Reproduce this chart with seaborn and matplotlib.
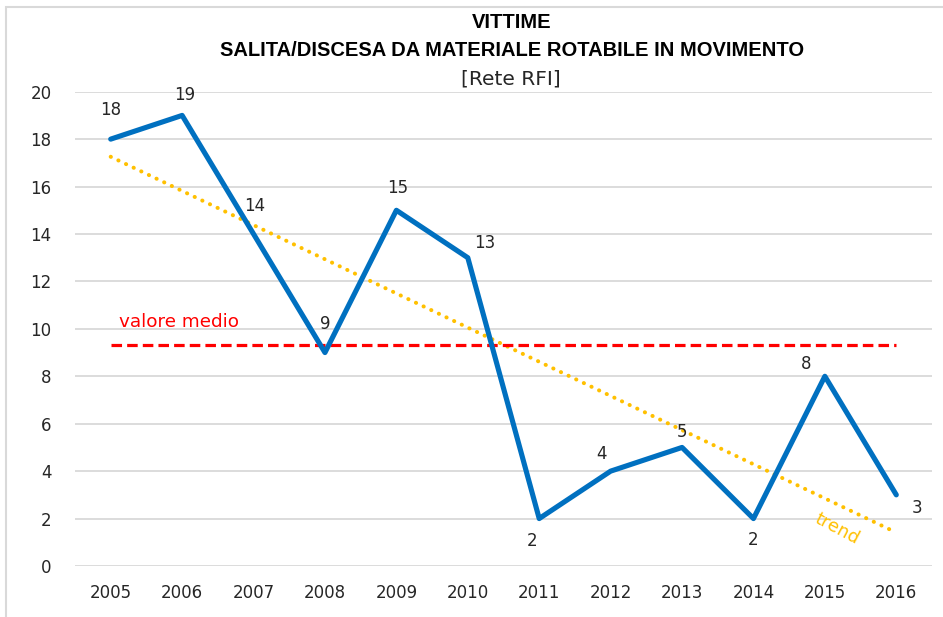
import numpy as np
import pandas as pd
import matplotlib
matplotlib.use("Agg")
import matplotlib.pyplot as plt
from matplotlib.patches import Rectangle
import seaborn as sns

years = [2005, 2006, 2007, 2008, 2009, 2010, 2011, 2012, 2013, 2014, 2015, 2016]
victims = [18, 19, 14, 9, 15, 13, 2, 4, 5, 2, 8, 3]
y_ticks = [0, 2, 4, 6, 8, 10, 12, 14, 16, 18, 20]
title_lines = ["VITTIME", "SALITA/DISCESA DA MATERIALE ROTABILE IN MOVIMENTO"]
subtitle = "[Rete RFI]"
mean_label = "valore medio"
trend_label = "trend"

# label offsets in pixels (dx, dy) relative to each point
label_offsets = [(0, 29), (3, 20), (1, 28), (0, 29), (1, 22), (17, 15),
                 (-7, -22), (-9, 17), (0, 15), (0, -21), (-19, 12), (21, -13)]

df = pd.DataFrame({"year": years, "victims": victims})
mean_val = float(np.mean(victims))
df_mean = pd.DataFrame({"year": years, "mean": [mean_val] * len(years)})

sns.set_theme(style="white")
plt.rcParams["font.family"] = ["DejaVu Sans"]

fig = plt.figure(figsize=(9.43, 6.17), dpi=100)
ax = fig.add_axes([75 / 943, 1 - 566 / 617, (932 - 75) / 943, (566 - 91.7) / 617])

ax.set_ylim(0, 20)
ax.set_xlim(2004.5, 2016.5)
ax.set_yticks(y_ticks)
ax.yaxis.grid(True, color="#D9D9D9", lw=1.3)
ax.xaxis.grid(False)
ax.set_axisbelow(True)
for s in ax.spines.values():
    s.set_visible(False)

# trend (linear regression through the library)
sns.regplot(data=df, x="year", y="victims", ax=ax, scatter=False, ci=None,
            truncate=True,
            line_kws=dict(color="#FFC000", lw=2.9, linestyle=(0, (0.05, 2.05)),
                          dash_capstyle="round", zorder=2))

# mean line
sns.lineplot(data=df_mean, x="year", y="mean", ax=ax, color="#FF0000", lw=2.3,
             linestyle=(0, (3.3, 1.6)), zorder=3)

# main series
sns.lineplot(data=df, x="year", y="victims", ax=ax, color="#0070C0", lw=3.7,
             solid_joinstyle="round", solid_capstyle="round", zorder=4)

ax.set_xticks(years)
ax.set_xticklabels([str(y) for y in years])
ax.tick_params(axis="both", length=0, labelsize=12, colors="#262626")
ax.tick_params(axis="y", pad=17)
ax.tick_params(axis="x", pad=13)
ax.set_xlabel("")
ax.set_ylabel("")

for (x, v), (dx, dy) in zip(zip(years, victims), label_offsets):
    ax.annotate(str(v), (x, v), xytext=(dx, dy), textcoords="offset pixels",
                ha="center", va="center", fontsize=12, color="#262626", zorder=5)

ax.text(2005.11, 10.27, mean_label, color="#FF0000", fontsize=13.2, ha="left", va="center")
ax.text(2015.17, 1.55, trend_label, color="#FFC000", fontsize=13, ha="center", va="center",
        rotation=-28, rotation_mode="anchor")

fig.text(512 / 943, 1 - 23 / 617, title_lines[0], ha="center", va="center",
         fontsize=14.5, fontweight="bold", family="Liberation Sans", color="#000000")
fig.text(512 / 943, 1 - 50 / 617, title_lines[1], ha="center", va="center",
         fontsize=14.5, fontweight="bold", family="Liberation Sans", color="#000000")
fig.text(511 / 943, 1 - 79 / 617, subtitle, ha="center", va="center",
         fontsize=14.5, color="#262626")

fig.add_artist(Rectangle((6 / 943, -0.1), 1.2, 0.1 + (617 - 7) / 617,
                         transform=fig.transFigure, fill=False,
                         edgecolor="#D9D9D9", lw=1.5))

fig.savefig("out.png", dpi=100, facecolor="white")
